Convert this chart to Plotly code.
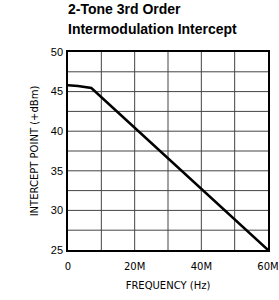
import plotly.graph_objects as go

freq_mhz = [0, 3, 7, 60]
intercept_dbm = [45.8, 45.7, 45.45, 25.0]

x_tickvals = [0, 20, 40, 60]
x_ticktext = ["0", "20M", "40M", "60M"]
y_tickvals = [25, 30, 35, 40, 45, 50]

title_lines = ["2-Tone 3rd Order", "Intermodulation Intercept"]
x_title = "FREQUENCY (Hz)"
y_title = "INTERCEPT POINT (+dBm)"

fig = go.Figure()
fig.add_trace(go.Scatter(x=freq_mhz, y=intercept_dbm, mode="lines",
                         line=dict(color="black", width=2.5), showlegend=False))

grid = "#444444"
fig.update_layout(
    width=279, height=300,
    margin=dict(l=68, r=11, t=52, b=50, autoexpand=False),
    paper_bgcolor="white", plot_bgcolor="white",
    font=dict(family="DejaVu Sans, Liberation Sans", size=10, color="black"),
)
title_font = dict(family="Liberation Sans Narrow, Arial Narrow, Liberation Sans", size=14, color="black")
for i, line in enumerate(title_lines):
    fig.add_annotation(text="<b>" + line + "</b>", xref="paper", yref="paper",
                       x=0, xanchor="left", xshift=-2,
                       y=1, yanchor="bottom", yshift=52 - 19 - 20 * i,
                       showarrow=False, font=title_font)
fig.update_xaxes(range=[0, 60], showgrid=False, automargin=False,
                 showline=True, linecolor="black", linewidth=1.5, mirror=True,
                 zeroline=False, ticks="", ticklabelstandoff=6,
                 tickmode="array", tickvals=x_tickvals, ticktext=x_ticktext,
                 tickfont=dict(size=10),
                 title=dict(text=x_title, font=dict(size=10), standoff=11))
fig.update_yaxes(range=[25, 50], showgrid=False, automargin=False,
                 showline=True, linecolor="black", linewidth=1.5, mirror=True,
                 zeroline=False, ticks="", ticklabelstandoff=1,
                 tickmode="array", tickvals=y_tickvals,
                 tickfont=dict(family="Liberation Sans", size=11),
                 title=dict(text=y_title, font=dict(size=10), standoff=10))
# grid lines every 10M and every 2.5 dBm
for xv in range(10, 60, 10):
    fig.add_shape(type="line", xref="x", yref="y", x0=xv, x1=xv, y0=25, y1=50,
                  line=dict(color=grid, width=1), layer="below")
for i in range(1, 10):
    yv = 25 + 2.5 * i
    fig.add_shape(type="line", xref="x", yref="y", x0=0, x1=60, y0=yv, y1=yv,
                  line=dict(color=grid, width=1), layer="below")
fig.write_html("out.html", config={"displayModeBar": False},
               post_script="document.body.style.margin='0';")
